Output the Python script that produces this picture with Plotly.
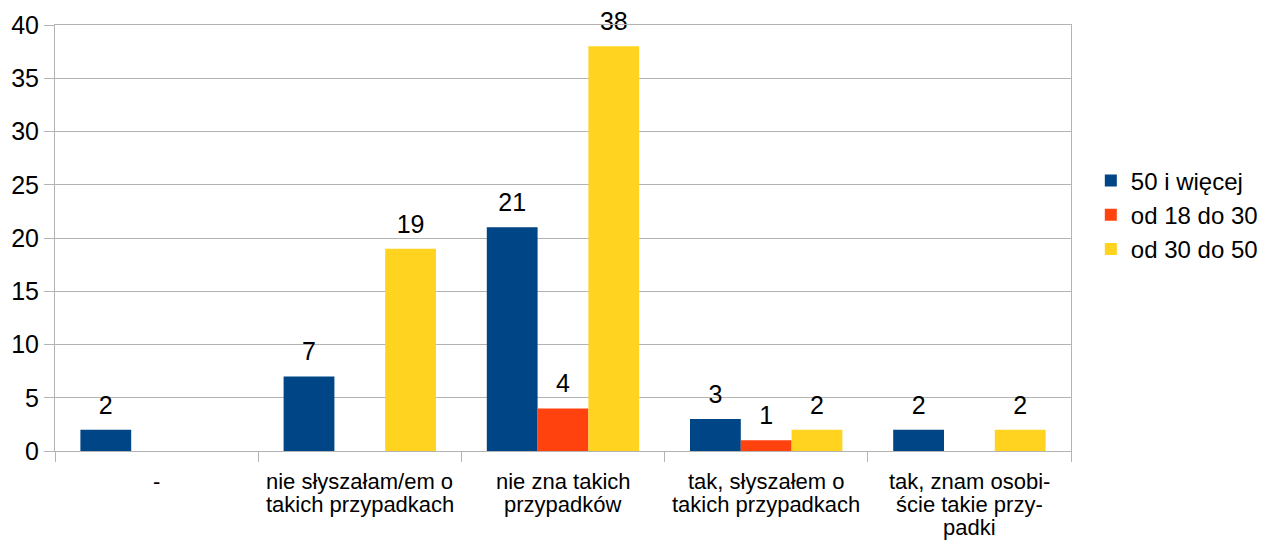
import plotly.graph_objects as go

categories = ["-", "nie słyszałam/em o takich przypadkach", "nie zna takich przypadków",
              "tak, słyszałem o takich przypadkach", "tak, znam osobiście takie przypadki"]
category_lines = [["-"], ["nie słyszałam/em o", "takich przypadkach"], ["nie zna takich", "przypadków"],
                  ["tak, słyszałem o", "takich przypadkach"], ["tak, znam osobi-", "ście takie przy-", "padki"]]
series_names = ["50 i więcej", "od 18 do 30", "od 30 do 50"]
s_50 = [2, 7, 21, 3, 2]
s_18_30 = [None, None, 4, 1, None]
s_30_50 = [None, 19, 38, 2, 2]
colors = ["#004586", "#ff420e", "#ffd320"]

FONT = "Liberation Sans"
fig = go.Figure()
for name, vals, c in zip(series_names, [s_50, s_18_30, s_30_50], colors):
    fig.add_trace(go.Bar(x=categories, y=vals, name=name, marker_color=c,
                         marker_line_width=0, hoverinfo="x+y+name"))
for name, vals in zip(series_names, [s_50, s_18_30, s_30_50]):
    fig.add_trace(go.Scatter(
        x=categories, y=vals, mode="markers+text", showlegend=False, hoverinfo="skip",
        marker=dict(size=14, opacity=0), cliponaxis=False,
        text=[str(v) if v is not None else "" for v in vals],
        textposition="top center",
        textfont=dict(family=FONT, size=25, color="#000000"),
    ))

annotations = []
for cat, lines in zip(categories, category_lines):
    for i, ln in enumerate(lines):
        annotations.append(dict(x=cat, xref="x", y=0, yref="paper", yanchor="middle",
                                yshift=-(30 + 23 * i), text=ln, showarrow=False,
                                font=dict(family=FONT, size=22, color="#000000")))

grid = "#b3b3b3"
fig.update_layout(
    width=1261, height=532,
    margin=dict(l=47, r=198, t=17, b=89, autoexpand=False),
    paper_bgcolor="white", plot_bgcolor="white",
    barmode="group", bargap=0.25, bargroupgap=0,
    scattermode="group", scattergap=0.25,
    font=dict(family=FONT, color="#000000"),
    legend=dict(x=1.0195, xanchor="left", y=0.554, yanchor="middle",
                font=dict(size=24), itemwidth=30),
    xaxis=dict(showline=True, linecolor=grid, mirror=True, ticks="outside",
               tickson="boundaries", ticklen=10, tickcolor=grid,
               showticklabels=False, showgrid=False),
    yaxis=dict(range=[0, 40], dtick=5, showline=True, linecolor=grid, mirror=True,
               gridcolor=grid, ticks="outside", ticklen=10, tickcolor=grid,
               tickfont=dict(size=25), zeroline=False),
    annotations=annotations,
)
fig.write_html("out.html")
